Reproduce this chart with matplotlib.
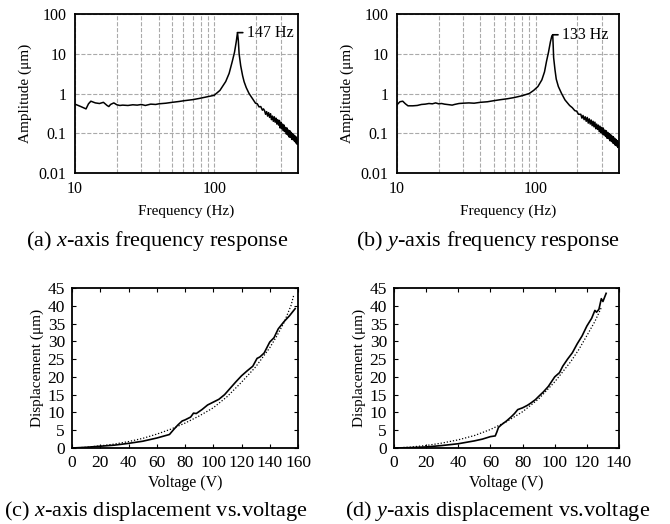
import matplotlib
matplotlib.use('Agg')
import matplotlib.pyplot as plt
from matplotlib.ticker import FixedLocator, NullFormatter

plt.rcParams['font.family'] = ['Liberation Serif', 'DejaVu Serif']
plt.rcParams['mathtext.fontset'] = 'custom'
plt.rcParams['mathtext.rm'] = 'Liberation Serif'
plt.rcParams['mathtext.it'] = 'Liberation Serif:italic'

# (a) x-axis frequency response
freq_x = [10, 11, 12, 12.5, 13, 14, 15, 16, 17, 17.5, 18, 19, 20, 21, 22, 24, 26, 28, 30, 32,
          35, 38, 40, 45, 50, 56, 61, 70, 78, 88, 100, 110, 121, 128, 135, 140, 144, 147,
          149, 151, 155, 160, 164, 170, 178, 188, 198, 204, 210, 216, 222, 226,
          230, 234, 238, 242, 246, 250, 254, 258, 262, 266, 270, 274, 278, 282, 286, 290,
          294, 298, 302, 306, 310, 314, 318, 322, 326, 330, 334, 338, 342, 346, 350, 354,
          358, 362, 366, 370, 374, 378, 382, 386, 390, 394, 398, 400]
amp_x = [0.54, 0.47, 0.41, 0.55, 0.64, 0.58, 0.56, 0.60, 0.50, 0.47, 0.53, 0.58, 0.52, 0.50, 0.51, 0.50, 0.52, 0.51, 0.53, 0.50,
         0.54, 0.53, 0.55, 0.57, 0.60, 0.63, 0.66, 0.70, 0.75, 0.82, 0.90, 1.2, 2.0, 3.2, 6.5, 11, 20, 34,
         22, 10, 5.0, 2.8, 1.98, 1.4, 1.0, 0.75, 0.57, 0.55, 0.46, 0.47, 0.38, 0.41,
         0.37, 0.30, 0.35, 0.27, 0.33, 0.25, 0.31, 0.22, 0.27, 0.20, 0.26, 0.19, 0.24, 0.17, 0.22, 0.16,
         0.21, 0.135, 0.19, 0.13, 0.17, 0.115, 0.16, 0.11, 0.14, 0.095, 0.135, 0.09, 0.12, 0.08, 0.115, 0.078,
         0.105, 0.07, 0.098, 0.068, 0.09, 0.062, 0.085, 0.057, 0.08, 0.053, 0.07, 0.055]

# (b) y-axis frequency response
freq_y = [10, 10.5, 11, 11.5, 12, 13, 14, 15, 16, 17, 18, 19, 20, 21, 22, 24, 25, 26, 28, 30,
          33, 36, 40, 45, 50, 56, 63, 70, 80, 90, 97, 104, 111, 116, 120, 124, 128, 131, 133,
          134, 135, 138, 141, 146, 154, 163, 176, 184, 192, 198, 204,
          212, 216, 220, 224, 228, 232, 236, 240, 244, 248, 252, 256, 260, 264, 268, 272, 276,
          280, 284, 288, 292, 296, 300, 304, 308, 312, 316, 320, 324, 328, 332, 336, 340, 344,
          348, 352, 356, 360, 364, 368, 372, 376, 380, 384, 388, 392, 396, 400]
amp_y = [0.52, 0.62, 0.64, 0.55, 0.49, 0.49, 0.50, 0.53, 0.54, 0.56, 0.55, 0.58, 0.55, 0.56, 0.54, 0.52, 0.51, 0.53, 0.56, 0.57,
         0.58, 0.57, 0.60, 0.62, 0.66, 0.70, 0.74, 0.79, 0.88, 1.0, 1.2, 1.5, 2.2, 3.5, 6.5, 11, 20, 28, 30,
         16, 8, 4, 2.3, 1.5, 1.0, 0.69, 0.5, 0.44, 0.37, 0.36, 0.30,
         0.30, 0.24, 0.28, 0.22, 0.26, 0.20, 0.25, 0.18, 0.23, 0.17, 0.215, 0.155, 0.20, 0.145, 0.19, 0.13, 0.17,
         0.125, 0.16, 0.11, 0.15, 0.105, 0.14, 0.095, 0.135, 0.09, 0.12, 0.083, 0.115, 0.075, 0.105, 0.073, 0.098, 0.065,
         0.092, 0.063, 0.085, 0.057, 0.082, 0.055, 0.075, 0.05, 0.07, 0.048, 0.065, 0.044, 0.06, 0.047]

# (c) x-axis displacement vs voltage
volt_x = [0, 10, 20, 30, 40, 50, 60, 69, 72, 75, 78, 80, 84, 86, 88, 92, 96, 100, 104, 108,
          112, 116, 120, 124, 128, 131, 133, 136, 140, 143, 146, 150, 154, 158]
disp_x = [0, 0.2, 0.5, 0.8, 1.3, 1.9, 2.8, 3.8, 5.2, 6.5, 7.6, 7.9, 8.7, 9.8, 9.7, 10.8, 12.1, 12.9, 13.7, 15.0,
          16.8, 18.6, 20.3, 21.7, 23.0, 25.2, 25.6, 26.7, 29.8, 31.0, 33.5, 35.5, 37.2, 39.2]
fit_volt_x = [0, 10, 20, 30, 40, 50, 60, 70, 80, 90, 100, 110, 120, 130, 140, 145, 150, 155, 157]
fit_disp_x = [0, 0.2, 0.6, 1.1, 1.8, 2.7, 3.9, 5.3, 7.0, 9.0, 11.3, 14.5, 18.5, 22.8, 28.2, 31.5, 35.2, 40.0, 43.0]

# (d) y-axis displacement vs voltage
volt_y = [0, 10, 20, 30, 40, 50, 55, 60, 63, 64, 65, 67, 70, 73, 75, 77, 80, 83, 85, 88,
          90, 93, 96, 100, 103, 105, 108, 111, 114, 117, 120, 123, 125, 126, 127.5, 129, 130, 132]
disp_y = [0, 0.1, 0.3, 0.7, 1.2, 2.0, 2.5, 3.2, 3.4, 4.5, 5.8, 6.6, 7.6, 8.8, 9.7, 10.8, 11.3, 12.0, 12.6, 13.6,
          14.5, 15.8, 17.3, 20.0, 21.2, 23.0, 25.0, 26.8, 29.3, 31.5, 34.3, 36.5, 38.7, 38.2, 39.0, 42.0, 41.2, 43.5]
fit_volt_y = [0, 10, 20, 30, 40, 50, 60, 70, 80, 90, 100, 110, 115, 120, 125, 129]
fit_disp_y = [0, 0.25, 0.7, 1.4, 2.3, 3.5, 5.2, 7.4, 10.2, 13.8, 18.6, 24.3, 27.7, 31.6, 35.6, 39.5]

W, H = 670, 524
fig = plt.figure(figsize=(W / 100, H / 100), dpi=100)


def box(l, t, r, b):
    return [l / W, 1 - b / H, (r - l) / W, (b - t) / H]


def freq_panel(rect, f, a, peak_f, peak_a, label, caption, cap_x):
    ax = fig.add_axes(rect)
    ax.plot(f, a, color='black', lw=1.1)
    ax.set_xscale('log')
    ax.set_yscale('log')
    ax.set_xlim(10, 400)
    ax.set_ylim(0.01, 100)
    ax.set_xticks([10, 100])
    ax.set_xticklabels(['10', '100'])
    ax.xaxis.set_minor_locator(FixedLocator([20, 30, 40, 50, 60, 70, 80, 90, 200, 300]))
    ax.xaxis.set_minor_formatter(NullFormatter())
    ax.set_yticks([0.01, 0.1, 1, 10, 100])
    ax.set_yticklabels(['0.01', '0.1', '1', '10', '100'])
    ax.yaxis.set_minor_locator(FixedLocator([]))
    ax.grid(True, which='both', color='#aaaaaa', ls='--', lw=0.8)
    ax.tick_params(which='both', length=0, labelsize=11.5, pad=6)
    for s in ax.spines.values():
        s.set_linewidth(1.3)
    ax.set_xlabel('Frequency (Hz)', fontsize=11, labelpad=5)
    ax.set_ylabel('Amplitude (μm)', fontsize=11, labelpad=5)
    ax.annotate(label, xy=(peak_f, peak_a), xytext=(peak_f * 1.17, peak_a),
                fontsize=11.5, va='center', ha='left',
                arrowprops=dict(arrowstyle='-', color='black', lw=1.2, shrinkA=1, shrinkB=0))
    fig.text(cap_x / W, 1 - 241 / H, caption, fontsize=16, ha='center', va='center')
    return ax


def volt_panel(rect, v, d, fv, fd, xmax, caption, cap_x):
    ax = fig.add_axes(rect)
    ax.plot(fv, fd, color='black', lw=0.9, ls=(0, (1, 1.5)))
    ax.plot(v, d, color='black', lw=1.2)
    ax.set_xlim(0, xmax)
    ax.set_ylim(0, 45)
    ax.set_xticks(range(0, xmax + 1, 20))
    ax.set_yticks(range(0, 46, 5))
    ax.tick_params(direction='in', top=True, right=True, length=3, width=0.8,
                   labelsize=12.5, pad=5)
    for s in ax.spines.values():
        s.set_linewidth(1.3)
    ax.set_xlabel('Voltage (V)', fontsize=11.5, labelpad=3)
    ax.set_ylabel('Displacement (μm)', fontsize=11, labelpad=3)
    fig.text(cap_x / W, 1 - 511 / H, caption, fontsize=16, ha='center', va='center')
    return ax


freq_panel(box(75, 14, 298, 173), freq_x, amp_x, 147, 34, '147 Hz',
           r'(a) $\mathit{x}$-axis frequency response', 157)
freq_panel(box(397, 14, 619, 173), freq_y, amp_y, 133, 30, '133 Hz',
           r'(b) $\mathit{y}$-axis frequency response', 488)
volt_panel(box(72, 288, 298, 448), volt_x, disp_x, fit_volt_x, fit_disp_x, 160,
           r'(c) $\mathit{x}$-axis displacement vs.voltage', 156)
volt_panel(box(394, 288, 619, 448), volt_y, disp_y, fit_volt_y, fit_disp_y, 140,
           r'(d) $\mathit{y}$-axis displacement vs.voltage', 498)

fig.savefig('out.png', dpi=100)
